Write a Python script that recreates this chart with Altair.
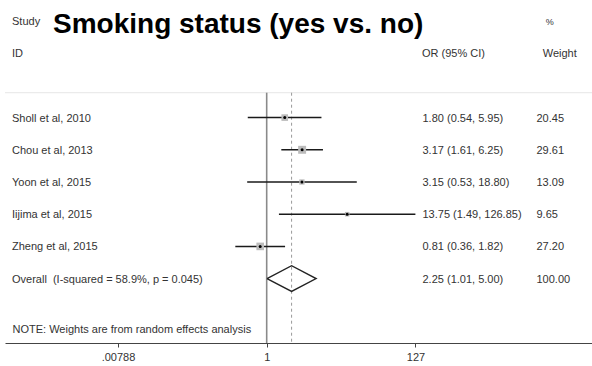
import altair as alt
import pandas as pd

# Forest plot: smoking status (yes vs. no), random-effects meta-analysis
studies = ["Sholl et al, 2010", "Chou et al, 2013", "Yoon et al, 2015",
           "Iijima et al, 2015", "Zheng et al, 2015"]
odds_ratio = [1.80, 3.17, 3.15, 13.75, 0.81]
ci_low = [0.54, 1.61, 0.53, 1.49, 0.36]
ci_high = [5.95, 6.25, 18.80, 126.85, 1.82]
weights = [20.45, 29.61, 13.09, 9.65, 27.20]

pooled_or = 2.25
pooled_low = 1.01
pooled_high = 5.00
pooled_weight = 100.00
i_squared = 58.9
p_het = 0.045

tick_values = [0.00788, 1, 127]
tick_labels = [".00788", "1", "127"]

title_text = "Smoking status (yes vs. no)"
note_text = "NOTE: Weights are from random effects analysis"

FONT = "Liberation Sans"
W, H = 587, 343

# row layout (row units; study rows begin after the two header lines)
first_row = 3
rows = [first_row + i for i in range(len(studies))]
pooled_row = first_row + len(studies)
note_row = pooled_row + 1.55
top_line_row = 2.227
bottom_row = 10.0

df = pd.DataFrame({
    "study": studies, "or": odds_ratio, "lo": ci_low, "hi": ci_high,
    "weight": weights, "row": rows,
})
df["or_txt"] = [f"{o:.2f} ({l:.2f}, {h:.2f})" for o, l, h in zip(odds_ratio, ci_low, ci_high)]
df["wt_txt"] = [f"{w:.2f}" for w in weights]

pooled_label = f"Overall\u00a0 (I-squared = {i_squared:.1f}%, p = {p_het:.3f})"
labels = pd.DataFrame({
    "row": rows + [pooled_row],
    "label": studies + [pooled_label],
    "or_txt": list(df["or_txt"]) + [f"{pooled_or:.2f} ({pooled_low:.2f}, {pooled_high:.2f})"],
    "wt_txt": list(df["wt_txt"]) + [f"{pooled_weight:.2f}"],
})

xs = alt.Scale(type="log", domain=[0.000199, 39900], nice=False)
ys = alt.Scale(domain=[-0.652, bottom_row], reverse=True, zero=False, nice=False)

label_expr = " : ".join(
    f"datum.value == {v} ? '{t}'" for v, t in zip(tick_values[:-1], tick_labels[:-1])
) + f" : '{tick_labels[-1]}'"

x_axis = alt.Axis(values=tick_values, labelExpr=label_expr, title=None, grid=False,
                  tickSize=4, labelPadding=4, domainColor="#444", tickColor="#444",
                  labelColor="#333", labelFontSize=11, labelFont=FONT)

Y = lambda f: alt.Y(f, scale=ys, axis=None)

# faint separator under the header
sep = alt.Chart(pd.DataFrame({"row": [top_line_row]})).mark_rule(
    color="#e6e6e6", strokeWidth=1).encode(
    y=Y("row:Q"), x=alt.value(0), x2=alt.value(W))

# null line (OR = 1) and pooled estimate line
refs = pd.DataFrame({"x": [1.0], "y0": [top_line_row], "y1": [bottom_row]})
null_line = alt.Chart(refs).mark_rule(color="#8a8a8a", strokeWidth=1.6).encode(
    x=alt.X("x:Q", scale=xs, axis=x_axis), y=Y("y0:Q"), y2="y1:Q")
pooled_ref = pd.DataFrame({"x": [pooled_or], "y0": [top_line_row], "y1": [bottom_row]})
pooled_line = alt.Chart(pooled_ref).mark_rule(
    color="#999", strokeWidth=1, strokeDash=[3, 3]).encode(
    x=alt.X("x:Q", scale=xs), y=Y("y0:Q"), y2="y1:Q")

# study confidence intervals, weight boxes and point estimates
ci = alt.Chart(df).mark_rule(color="#1a1a1a", strokeWidth=1.5).encode(
    x=alt.X("lo:Q", scale=xs), x2="hi:Q", y=Y("row:Q"))
boxes = alt.Chart(df).mark_square(color="#bcbcbc", opacity=1).encode(
    x=alt.X("or:Q", scale=xs), y=Y("row:Q"),
    size=alt.Size("weight:Q", scale=alt.Scale(domain=[0, 30], range=[0, 64]), legend=None))
dots = alt.Chart(df).mark_circle(color="black", size=9, opacity=1).encode(
    x=alt.X("or:Q", scale=xs), y=Y("row:Q"))

# pooled diamond
half = 0.4
diamond_df = pd.DataFrame({
    "x": [pooled_low, pooled_or, pooled_high, pooled_or, pooled_low],
    "row": [pooled_row, pooled_row - half, pooled_row, pooled_row + half, pooled_row],
    "order": [0, 1, 2, 3, 4],
})
diamond = alt.Chart(diamond_df).mark_line(color="#222", strokeWidth=1.4).encode(
    x=alt.X("x:Q", scale=xs), y=Y("row:Q"), order="order:Q")

txt = dict(font=FONT, fontSize=11, color="#333", align="left",
           baseline="alphabetic", dy=4)

study_txt = alt.Chart(labels).mark_text(**txt).encode(
    x=alt.value(7), y=Y("row:Q"), text="label:N")
or_col = alt.Chart(labels).mark_text(**txt).encode(
    x=alt.value(417.5), y=Y("row:Q"), text="or_txt:N")
wt_col = alt.Chart(labels).mark_text(**txt).encode(
    x=alt.value(531.5), y=Y("row:Q"), text="wt_txt:N")

def header(text, px, row, size=11):
    d = pd.DataFrame({"row": [row], "t": [text]})
    opts = dict(txt)
    opts["fontSize"] = size
    return alt.Chart(d).mark_text(**opts).encode(
        x=alt.value(px), y=Y("row:Q"), text="t:N")

headers = [
    header("Study", 7, 0),
    header("ID", 7, 1),
    header("%", 540.7, 0, 9),
    header("OR (95% CI)", 417, 1),
    header("Weight", 537.7, 1),
    header(note_text, 7.5, note_row),
]

title = alt.Chart(pd.DataFrame({"t": [title_text]})).mark_text(
    font=FONT, fontSize=28, fontWeight="bold", color="black",
    align="left", baseline="alphabetic").encode(
    x=alt.value(48), y=alt.value(33.3), text="t:N")

chart = alt.layer(
    sep, null_line, pooled_line, ci, boxes, dots, diamond,
    study_txt, or_col, wt_col, *headers, title,
).properties(
    width=W, height=H,
    autosize=alt.AutoSizeParams(type="none"),
    padding={"left": 5, "top": 0, "right": 0, "bottom": 23},
    background="white",
).configure_view(stroke=None)

chart.save("out.html", embed_options={"renderer": "svg", "actions": False})
